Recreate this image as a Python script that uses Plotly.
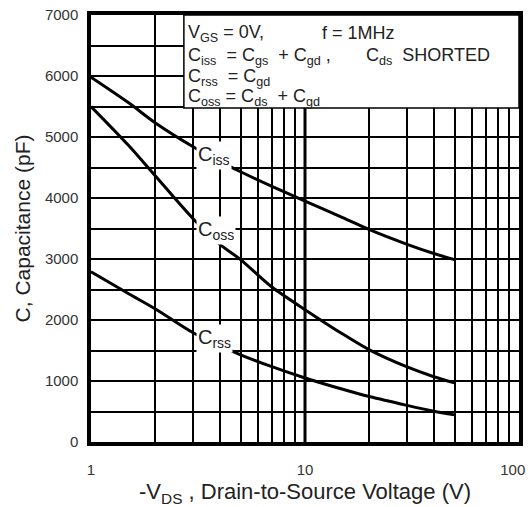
import math
import plotly.graph_objects as go

vds = [1, 1.5, 2, 3, 4, 5, 7, 10, 15, 20, 30, 40, 50]
ciss = [5980, 5560, 5230, 4840, 4600, 4430, 4190, 3950, 3680, 3480, 3240, 3090, 2990]
coss = [5500, 4860, 4360, 3660, 3240, 2990, 2540, 2170, 1770, 1510, 1230, 1070, 970]
crss = [2790, 2430, 2180, 1790, 1580, 1430, 1235, 1050, 865, 745, 600, 505, 445]

x_grid = [1, 2, 3, 4, 5, 6, 7, 8, 9, 10, 20, 30, 40, 50, 60, 70, 80, 90, 100]
x_labels = {1: "1", 10: "10", 100: "100\u00a0\u00a0\u00a0"}
x_grid_text = [x_labels.get(v, "") for v in x_grid]
x_range_log = [0, 2]
x_decade = 10
y_ticks = [0, 1000, 2000, 3000, 4000, 5000, 6000, 7000]

FONT = "Liberation Sans, Arial, sans-serif"

fig = go.Figure()
for ys in (ciss, coss, crss):
    fig.add_trace(go.Scatter(x=vds, y=ys, mode="lines",
                             line=dict(color="black", width=3, shape="spline", smoothing=0.8),
                             showlegend=False, hoverinfo="skip"))

fig.update_layout(
    xaxis=dict(type="log", range=x_range_log, tickvals=x_grid, ticktext=x_grid_text,
               showgrid=True, gridcolor="black", gridwidth=1.5,
               showline=True, linecolor="black", linewidth=3.5, mirror=True,
               ticks="", zeroline=False, ticklabelstandoff=11, automargin=False,
               ticklabeloverflow="allow",
               tickfont=dict(family=FONT, size=15, color="#333"),
               title=dict(text="-V<sub>DS</sub> , Drain-to-Source Voltage (V)",
                          font=dict(family=FONT, size=22, color="#222"), standoff=8)),
    yaxis=dict(range=[0, 7000], tickvals=y_ticks,
               showgrid=True, gridcolor="black", gridwidth=1.5,
               minor=dict(dtick=500, showgrid=True, gridcolor="black", gridwidth=1.5, ticks=""),
               showline=True, linecolor="black", linewidth=3.5, mirror=True,
               ticks="", zeroline=False, ticklabelstandoff=6, automargin=False,
               ticklabeloverflow="allow",
               tickfont=dict(family=FONT, size=15, color="#333"),
               title=dict(text="C, Capacitance (pF)",
                          font=dict(family=FONT, size=21, color="#222"), standoff=10)),
)

# heavier decade gridline at 10 (position on the log axis domain)
dec_pos = (math.log10(x_decade) - x_range_log[0]) / (x_range_log[1] - x_range_log[0])
fig.add_shape(type="line", xref="x domain", yref="y domain", x0=dec_pos, x1=dec_pos, y0=0, y1=1,
              line=dict(color="black", width=3), layer="below")

# condition box
fig.add_shape(type="rect", xref="paper", yref="paper", x0=0.217, x1=1.0, y0=0.782, y1=1.0,
              fillcolor="white", line=dict(color="black", width=1.5), layer="above")

def py(ypix):
    return (442 - ypix) / 427.0

def px(xpix):
    return (xpix - 91) / 428.0

box_lines = [
    (186, 33, "V<sub>GS</sub> = 0V,"),
    (320, 33, "f = 1MHz"),
    (186, 56, "C<sub>iss</sub>  = C<sub>gs</sub>  + C<sub>gd</sub> ,"),
    (364, 56, "C<sub>ds</sub>  SHORTED"),
    (186, 77, "C<sub>rss</sub>  = C<sub>gd</sub>"),
    (186, 97, "C<sub>oss</sub> = C<sub>ds</sub>  + C<sub>gd</sub>"),
]
for bx, by, txt in box_lines:
    fig.add_annotation(xref="paper", yref="paper", x=px(bx), y=py(by), text=txt, showarrow=False,
                       xanchor="left", yanchor="middle",
                       font=dict(family=FONT, size=18, color="#222"))

curve_labels = [(3.1, 4690, "C<sub>iss</sub>"), (3.1, 3460, "C<sub>oss</sub>"), (3.1, 1690, "C<sub>rss</sub>")]
for lx, ly, txt in curve_labels:
    fig.add_annotation(x=math.log10(lx), y=ly, text=txt, showarrow=False,
                       xanchor="left", yanchor="middle", bgcolor="white", borderpad=1,
                       font=dict(family=FONT, size=20, color="#222"))

fig.update_layout(width=532, height=507, margin=dict(l=91, r=13, t=15, b=65),
                  plot_bgcolor="white", paper_bgcolor="white")

fig.write_html("out.html")
